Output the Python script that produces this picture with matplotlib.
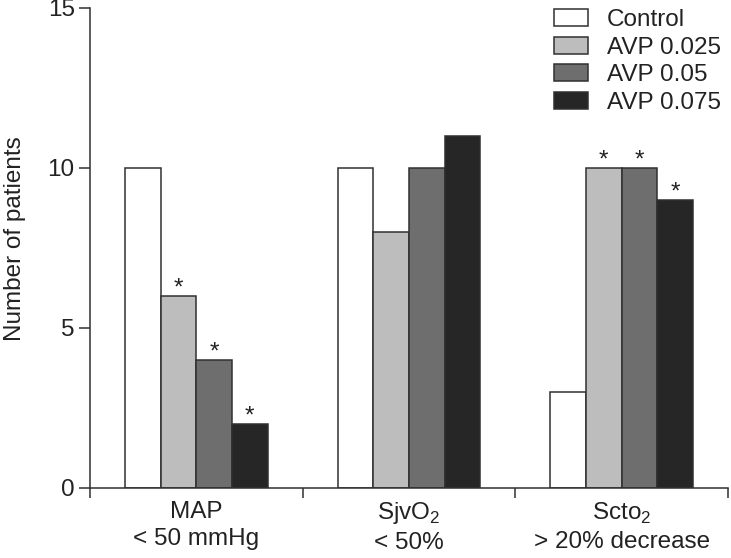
import matplotlib
matplotlib.use("Agg")
import matplotlib.pyplot as plt
import numpy as np

plt.rcParams['font.family'] = ['Liberation Sans', 'DejaVu Sans']
plt.rcParams['mathtext.fontset'] = 'custom'
plt.rcParams['mathtext.rm'] = 'Liberation Sans'

groups = ['MAP\n< 50 mmHg', 'SjvO$_\\mathregular{2}$\n< 50%', 'Scto$_\\mathregular{2}$\n> 20% decrease']
series = ['Control', 'AVP 0.025', 'AVP 0.05', 'AVP 0.075']
values = [
    [10, 10, 3],   # Control
    [6, 8, 10],    # AVP 0.025
    [4, 10, 10],   # AVP 0.05
    [2, 11, 9],    # AVP 0.075
]
# significance marks (True = asterisk)
stars = [
    [False, False, False],
    [True, False, True],
    [True, False, True],
    [True, False, True],
]
colors = ['#ffffff', '#bdbdbd', '#6e6e6e', '#262626']
edge = '#303030'
txt = '#222222'
fs = 17.5

fig = plt.figure(figsize=(7.31, 5.58), dpi=100)
ax = fig.add_axes([90/731, 1-488/558, (728-90)/731, (488-8)/558])

width = 0.1675
centers = np.arange(len(groups)) + 0.5
for i, (name, vals) in enumerate(zip(series, values)):
    x = centers + (i - 1.5) * width
    ax.bar(x, vals, width=width, color=colors[i], edgecolor=edge, linewidth=1.1, label=name, zorder=2)
    for xx, v, s in zip(x, vals, stars[i]):
        if s:
            ax.text(xx, v - 0.1, '*', ha='center', va='bottom', fontsize=fs, color=txt)

ax.set_xlim(0, 3)
ax.set_ylim(0, 15)
ax.set_yticks([0, 5, 10, 15])
ax.set_xticks(centers)
ax.set_xticklabels(groups, fontsize=fs, linespacing=1.33, color=txt)
ax.set_xticks([0, 1, 2, 3], minor=True)
ax.tick_params(axis='x', which='major', length=0, pad=9)
ax.tick_params(axis='x', which='minor', length=7, width=1.1, color=edge, direction='out')
ax.tick_params(axis='y', length=8, width=1.1, color=edge, labelsize=fs, labelcolor=txt, pad=3)
for side in ['top', 'right']:
    ax.spines[side].set_visible(False)
for side in ['left', 'bottom']:
    ax.spines[side].set_linewidth(1.1)
    ax.spines[side].set_color(edge)
ax.set_ylabel('Number of patients', fontsize=fs, color=txt)
ax.yaxis.set_label_coords(-0.100, 0.52)

fig.legend(loc='upper left', bbox_to_anchor=(554/731, 1-9/558), frameon=False,
           fontsize=fs, handlelength=1.4, handleheight=0.7, handletextpad=0.77,
           labelspacing=0.23, borderpad=0, borderaxespad=0, labelcolor=txt)

fig.savefig('out.png', dpi=100)
